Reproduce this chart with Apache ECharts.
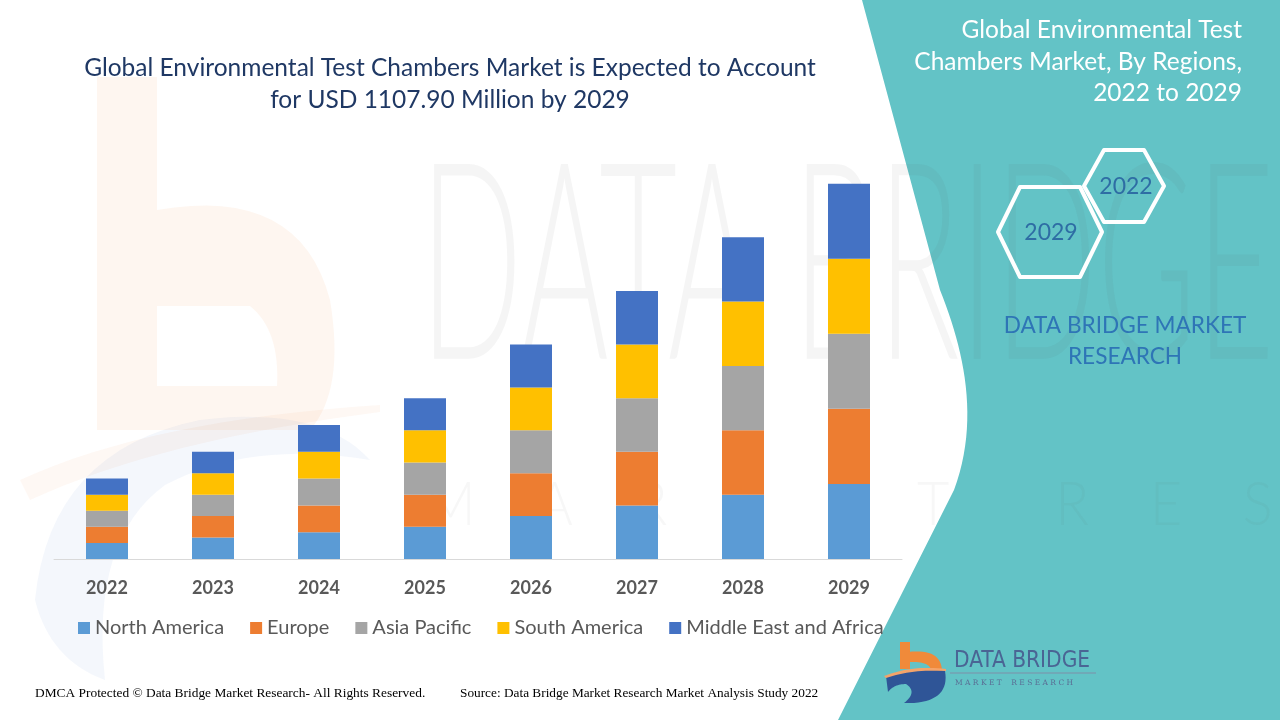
<!DOCTYPE html>
<html><head><meta charset="utf-8">
<script src="https://cdn.jsdelivr.net/npm/echarts@6/dist/echarts.min.js"></script>
<style>html,body{margin:0;padding:0;background:#fff}#c{width:1280px;height:720px}</style>
</head><body><div id="c"></div>
<script>
const years = ['2022', '2023', '2024', '2025', '2026', '2027', '2028', '2029'];
const northAmerica     = [1.5, 2, 2.5, 3, 4, 5, 6, 7];
const europe           = [1.5, 2, 2.5, 3, 4, 5, 6, 7];
const asiaPacific      = [1.5, 2, 2.5, 3, 4, 5, 6, 7];
const southAmerica     = [1.5, 2, 2.5, 3, 4, 5, 6, 7];
const middleEastAfrica = [1.5, 2, 2.5, 3, 4, 5, 6, 7];
const seriesNames = ['North America', 'Europe', 'Asia Pacific', 'South America', 'Middle East and Africa'];
const seriesData = [northAmerica, europe, asiaPacific, southAmerica, middleEastAfrica];
const colors = ['#5B9BD5', '#ED7D31', '#A5A5A5', '#FFC000', '#4472C4'];

const F = 'Lato, "Open Sans", sans-serif';
const chart = echarts.init(document.getElementById('c'));

// convert a simple absolute path (M L Q C Z) into polygon points
function pts(d) {
  const tok = d.match(/[MLQCZ]|-?\d*\.?\d+/g);
  const out = []; let i = 0, cx = 0, cy = 0, cmd = '';
  const num = () => parseFloat(tok[i++]);
  while (i < tok.length) {
    if (/[MLQCZ]/.test(tok[i])) cmd = tok[i++];
    if (cmd === 'Z') continue;
    if (cmd === 'M' || cmd === 'L') { cx = num(); cy = num(); out.push([cx, cy]); }
    else if (cmd === 'Q') {
      const x1 = num(), y1 = num(), x = num(), y = num();
      for (let t = 1; t <= 16; t++) { const s = t / 16, u = 1 - s; out.push([u*u*cx + 2*u*s*x1 + s*s*x, u*u*cy + 2*u*s*y1 + s*s*y]); }
      cx = x; cy = y;
    } else if (cmd === 'C') {
      const x1 = num(), y1 = num(), x2 = num(), y2 = num(), x = num(), y = num();
      for (let t = 1; t <= 24; t++) { const s = t / 24, u = 1 - s; out.push([u*u*u*cx + 3*u*u*s*x1 + 3*u*s*s*x2 + s*s*s*x, u*u*u*cy + 3*u*u*s*y1 + 3*u*s*s*y2 + s*s*s*y]); }
      cx = x; cy = y;
    } else i++;
  }
  return out;
}
function hex(cx, cy, hw, hh, inset) {
  return [[cx - hw, cy], [cx - hw + inset, cy - hh], [cx + hw - inset, cy - hh], [cx + hw, cy], [cx + hw - inset, cy + hh], [cx - hw + inset, cy + hh]];
}
function poly(d, fill, z) { return { type: 'polygon', z: z, shape: { points: pts(d) }, style: { fill: fill } }; }

const graphics = [
  // faint watermark logo on the left
  poly('M97 77 L157 77 L157 210 Q300 185 330 300 Q345 390 310 430 L97 430 Z', 'rgba(237,125,49,0.07)', -6),
  poly('M157 306 L250 306 Q280 330 277 386 L157 386 Z', '#ffffff', -5),
  poly('M20 480 Q150 420 380 405 L380 412 Q160 440 30 500 Z', 'rgba(237,125,49,0.05)', -5),
  poly('M35 600 Q50 450 200 420 Q320 405 370 460 Q250 440 165 485 Q90 540 105 680 Q50 660 35 600 Z', 'rgba(68,114,196,0.06)', -5),
  // teal panel
  poly('M862 0 L940 290 C964 350 980 420 954 490 L838 720 L1280 720 L1280 0 Z', '#63C3C6', -3),
  // watermark text (horizontally condensed)
  { type: 'text', z: -2, x: 420, y: 270, scaleX: 0.49, style: { text: 'DATA BRIDGE', x: 0, y: 0, textVerticalAlign: 'middle', font: '300 275px Lato, sans-serif', fill: 'rgba(90,90,90,0.06)' } },
  { type: 'text', z: -2, x: 425, y: 505, scaleX: 0.9, style: { text: 'M    A    R    K    E    T       R    E    S    E    A    R    C    H', x: 0, y: 0, textVerticalAlign: 'middle', font: '300 62px Lato, sans-serif', fill: 'rgba(90,90,90,0.05)' } },
  // main title
  { type: 'text', z: 10, style: { text: 'Global Environmental Test Chambers Market is Expected to Account', x: 450, y: 68, textAlign: 'center', textVerticalAlign: 'middle', font: '24.5px ' + F, fill: '#1F3864' } },
  { type: 'text', z: 10, style: { text: 'for USD 1107.90 Million by 2029', x: 450, y: 100, textAlign: 'center', textVerticalAlign: 'middle', font: '24.5px ' + F, fill: '#1F3864' } },
  // right title
  { type: 'text', z: 10, style: { text: 'Global Environmental Test', x: 1242, y: 30, textAlign: 'right', textVerticalAlign: 'middle', font: '24.5px ' + F, fill: '#ffffff' } },
  { type: 'text', z: 10, style: { text: 'Chambers Market, By Regions,', x: 1242, y: 62, textAlign: 'right', textVerticalAlign: 'middle', font: '24.5px ' + F, fill: '#ffffff' } },
  { type: 'text', z: 10, style: { text: '2022 to 2029', x: 1242, y: 93, textAlign: 'right', textVerticalAlign: 'middle', font: '24.5px ' + F, fill: '#ffffff' } },
  // hexagons
  { type: 'polygon', z: 10, shape: { points: hex(1124, 186, 40, 36, 20) }, style: { fill: 'none', stroke: '#ffffff', lineWidth: 4, lineJoin: 'round' } },
  { type: 'polygon', z: 10, shape: { points: hex(1050, 232, 52, 45, 22) }, style: { fill: 'none', stroke: '#ffffff', lineWidth: 4, lineJoin: 'round' } },
  { type: 'text', z: 11, style: { text: '2022', x: 1126, y: 187, textAlign: 'center', textVerticalAlign: 'middle', font: '23px ' + F, fill: '#2E6DA4' } },
  { type: 'text', z: 11, style: { text: '2029', x: 1051, y: 233, textAlign: 'center', textVerticalAlign: 'middle', font: '23px ' + F, fill: '#2E6DA4' } },
  { type: 'text', z: 11, style: { text: 'DATA BRIDGE MARKET', x: 1125, y: 326, textAlign: 'center', textVerticalAlign: 'middle', font: '22.6px ' + F, fill: '#2E75B6' } },
  { type: 'text', z: 11, style: { text: 'RESEARCH', x: 1125, y: 357, textAlign: 'center', textVerticalAlign: 'middle', font: '22.6px ' + F, fill: '#2E75B6' } },
  // bottom-right logo
  { type: 'rect', z: 11, shape: { x: 900, y: 642, width: 10, height: 27 }, style: { fill: '#F08A3A' } },
  poly('M908 652 Q942 648 942 672 L931 672 Q932 661 908 662 Z', '#F08A3A', 11),
  poly('M886 676 Q912 666 945 671 Q950 700 914 703 L904 703 Q918 692 906 684 Q894 684 888 692 Z', '#2F5597', 11),
  poly('M884 676 Q912 665 946 669 L946 671 Q912 669 886 678 Z', '#F4A46A', 12),
  { type: 'text', z: 11, style: { text: 'DATA BRIDGE', x: 954, y: 661, textVerticalAlign: 'middle', font: '22.5px "Liberation Sans Narrow", "DejaVu Sans Condensed", sans-serif', fill: '#4A6594' } },
  { type: 'line', z: 11, shape: { x1: 950, y1: 673, x2: 1096, y2: 673 }, style: { stroke: '#7E8FA8', lineWidth: 1 } },
  { type: 'text', z: 11, style: { text: 'M A R K E T    R E S E A R C H', x: 955, y: 683, textVerticalAlign: 'middle', font: '7.5px "DejaVu Serif", serif', fill: '#5A6F95' } },
  // footer
  { type: 'text', z: 10, style: { text: 'DMCA Protected © Data Bridge Market Research- All Rights Reserved.', x: 35, y: 693, textVerticalAlign: 'middle', font: '13.4px "Liberation Serif", serif', fill: '#000000' } },
  { type: 'text', z: 10, style: { text: 'Source: Data Bridge Market Research Market Analysis Study 2022', x: 460, y: 694, textVerticalAlign: 'middle', font: '13.3px "Liberation Serif", serif', fill: '#000000' } }
];

chart.setOption({
  animation: false,
  color: colors,
  grid: { left: 54, right: 378, top: 130, bottom: 161 },
  legend: {
    data: seriesNames,
    left: 78, top: 618, padding: 0,
    itemWidth: 12, itemHeight: 12, itemGap: 26,
    icon: 'rect',
    textStyle: { fontFamily: F, fontSize: 20, color: '#595959' }
  },
  xAxis: {
    type: 'category', data: years,
    axisLine: { lineStyle: { color: '#D9D9D9', width: 1 } },
    axisTick: { show: false },
    axisLabel: { margin: 20, fontFamily: F, fontSize: 18, fontWeight: 'bold', color: '#595959' }
  },
  yAxis: { type: 'value', min: 0, max: 40, show: false, splitLine: { show: false } },
  series: seriesNames.map((n, i) => ({
    name: n, type: 'bar', stack: 'total', barWidth: 42,
    data: seriesData[i], itemStyle: { color: colors[i] }
  })),
  graphic: { elements: graphics }
});
</script></body></html>
